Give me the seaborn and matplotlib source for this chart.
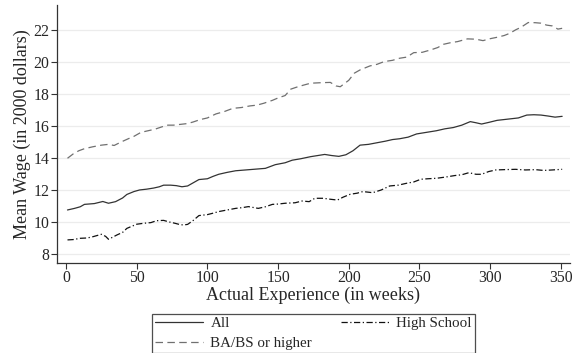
import matplotlib
matplotlib.use("Agg")
import matplotlib.pyplot as plt
import seaborn as sns
import pandas as pd

weeks_all = [1, 6, 10, 13, 20, 26, 30, 35, 40, 43, 48, 52, 57, 62, 66, 69, 74, 78, 82, 86,
             90, 94, 100, 104, 108, 114, 120, 127, 134, 141, 148, 155, 160, 166, 173, 178, 183, 188, 193, 198,
             203, 208, 214, 220, 226, 231, 236, 242, 248, 255, 262, 268, 274, 280, 286, 290, 294, 299, 305, 310,
             315, 320, 326, 331, 336, 341, 346, 351]
wage_all = [10.75, 10.85, 10.95, 11.1, 11.15, 11.28, 11.17, 11.27, 11.5, 11.72,
            11.9, 12.0, 12.05, 12.12, 12.2, 12.3, 12.3, 12.27, 12.2, 12.25,
            12.45, 12.65, 12.7, 12.85, 12.98, 13.1, 13.2, 13.25, 13.3, 13.35,
            13.58, 13.7, 13.86, 13.95, 14.08, 14.15, 14.22, 14.15, 14.1, 14.2,
            14.45, 14.8, 14.85, 14.95, 15.05, 15.15, 15.2, 15.3, 15.5, 15.6,
            15.7, 15.82, 15.9, 16.05, 16.27, 16.2, 16.12, 16.22, 16.35, 16.4,
            16.45, 16.5, 16.68, 16.7, 16.68, 16.62, 16.55, 16.6]

weeks_ba = [1, 5, 9, 13, 19, 25, 30, 34, 39, 44, 48, 53, 58, 63, 68, 72, 76, 81, 86, 90,
            95, 100, 106, 112, 118, 124, 130, 135, 140, 146, 150, 155, 159, 163, 168, 173, 180, 187, 191, 194,
            200, 204, 208, 215, 220, 225, 231, 236, 241, 246, 252, 258, 263, 267, 272, 277, 284, 290, 295, 300,
            305, 310, 314, 318, 322, 327, 332, 336, 340, 344, 348, 351]
wage_ba = [13.98, 14.25, 14.45, 14.58, 14.7, 14.8, 14.85, 14.78, 15.0, 15.2,
           15.35, 15.6, 15.7, 15.8, 15.95, 16.05, 16.05, 16.1, 16.15, 16.25,
           16.4, 16.5, 16.75, 16.9, 17.1, 17.15, 17.25, 17.3, 17.42, 17.6,
           17.75, 17.9, 18.3, 18.42, 18.55, 18.67, 18.7, 18.72, 18.5, 18.45,
           18.85, 19.3, 19.5, 19.75, 19.85, 20.02, 20.1, 20.23, 20.3, 20.58,
           20.6, 20.75, 20.9, 21.1, 21.2, 21.27, 21.44, 21.42, 21.33, 21.45,
           21.54, 21.65, 21.79, 22.0, 22.17, 22.46, 22.45, 22.42, 22.3, 22.25,
           22.05, 22.1]

weeks_hs = [1, 5, 10, 15, 19, 25, 28, 30, 33, 36, 40, 43, 47, 50, 55, 60, 64, 69, 73, 77,
            80, 83, 86, 90, 94, 100, 104, 108, 114, 120, 125, 129, 136, 141, 146, 150, 155, 162, 167, 172,
            176, 182, 187, 192, 196, 201, 206, 210, 217, 223, 229, 235, 241, 246, 251, 256, 262, 268, 275, 280,
            285, 290, 294, 299, 304, 310, 318, 325, 332, 338, 344, 351]
wage_hs = [8.88, 8.9, 8.98, 9.0, 9.08, 9.23, 9.1, 8.92, 9.05, 9.19,
           9.35, 9.6, 9.75, 9.86, 9.92, 9.96, 10.08, 10.1, 10.0, 9.92,
           9.85, 9.81, 9.85, 10.1, 10.4, 10.46, 10.55, 10.65, 10.75, 10.85,
           10.9, 10.96, 10.85, 10.95, 11.1, 11.12, 11.17, 11.2, 11.31, 11.27,
           11.48, 11.48, 11.42, 11.37, 11.55, 11.73, 11.8, 11.9, 11.83, 12.0,
           12.25, 12.3, 12.42, 12.5, 12.67, 12.7, 12.73, 12.8, 12.9, 12.95,
           13.08, 12.98, 12.98, 13.15, 13.25, 13.27, 13.29, 13.25, 13.27, 13.22,
           13.25, 13.29]

labels = ["All", "BA/BS or higher", "High School"]
x_ticks = [0, 50, 100, 150, 200, 250, 300, 350]
y_ticks = [8, 10, 12, 14, 16, 18, 20, 22]
x_label = "Actual Experience (in weeks)"
y_label = "Mean Wage (in 2000 dollars)"

sns.set_style("white")
plt.rcParams["font.family"] = ["Liberation Serif", "DejaVu Serif"]

fig = plt.figure(figsize=(5.82, 3.53), dpi=100)
ax = fig.add_axes([0.098, 0.256, 0.881, 0.730])

df_all = pd.DataFrame({"week": weeks_all, "wage": wage_all})
df_ba = pd.DataFrame({"week": weeks_ba, "wage": wage_ba})
df_hs = pd.DataFrame({"week": weeks_hs, "wage": wage_hs})

sns.lineplot(data=df_all, x="week", y="wage", ax=ax, color="#333333", linewidth=0.9,
             label=labels[0])
sns.lineplot(data=df_ba, x="week", y="wage", ax=ax, color="#707070", linewidth=0.9,
             label=labels[1])
sns.lineplot(data=df_hs, x="week", y="wage", ax=ax, color="#111111", linewidth=0.9,
             label=labels[2])
lines = ax.get_lines()
lines[1].set_dashes((6, 3.5))
lines[2].set_dashes((5, 2, 1, 2))

ax.set_xlim(-6.4, 356.4)
ax.set_ylim(7.46, 23.56)
ax.set_xticks(x_ticks)
ax.set_yticks(y_ticks)
ax.tick_params(axis="both", which="both", direction="out", length=4, width=0.8,
               color="#333333", labelsize=11.3, pad=1.5, left=True, bottom=True)
ax.grid(axis="y", color="#ececec", linewidth=0.9)
ax.grid(axis="x", visible=False)
for s in ["top", "right"]:
    ax.spines[s].set_visible(False)
for s in ["left", "bottom"]:
    ax.spines[s].set_color("#333333")
    ax.spines[s].set_linewidth(0.9)
ax.set_xlabel(x_label, fontsize=13, labelpad=0)
ax.set_ylabel(y_label, fontsize=13, labelpad=2)

handles, hl = ax.get_legend_handles_labels()
ax.get_legend().remove()
leg = fig.legend(handles, hl, ncol=2, loc="lower left",
                 bbox_to_anchor=(0.261, 0.0, 0.555, 0.128), mode="expand",
                 frameon=True, fancybox=False, edgecolor="#222222", fontsize=10.8,
                 handlelength=3.2, borderpad=0.2, labelspacing=0.42, handletextpad=0.5,
                 borderaxespad=0.0)
leg.get_frame().set_linewidth(0.9)

fig.savefig("out.png", dpi=100)
